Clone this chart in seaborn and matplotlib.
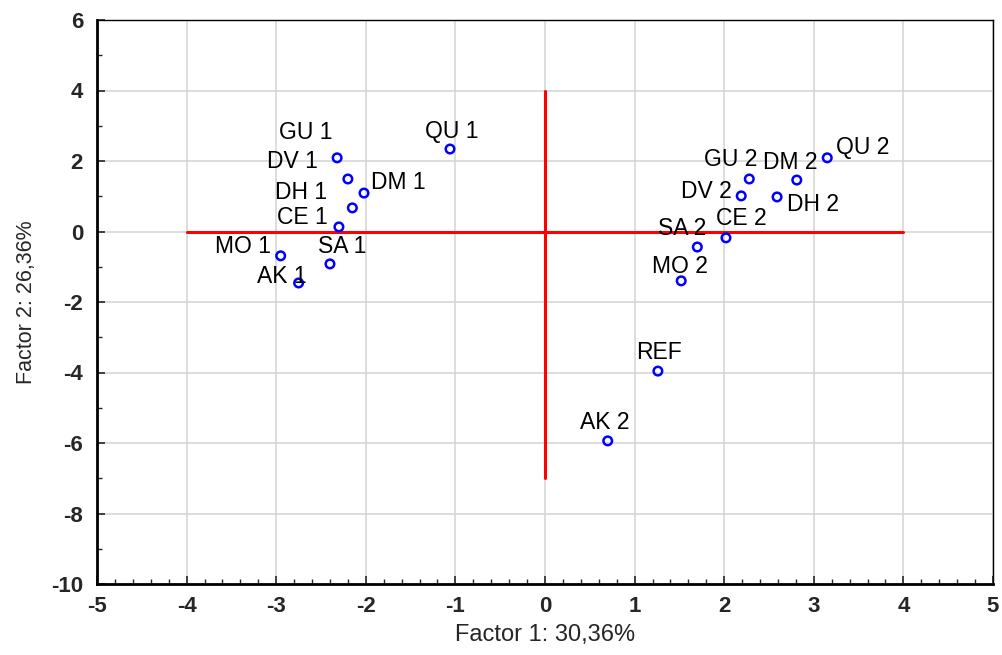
import matplotlib
matplotlib.use("Agg")
import matplotlib.pyplot as plt
from matplotlib.ticker import MultipleLocator
import seaborn as sns
import pandas as pd

labels = ["GU 1", "DV 1", "DM 1", "DH 1", "CE 1", "MO 1", "SA 1", "AK 1", "QU 1",
          "GU 2", "DM 2", "QU 2", "DV 2", "DH 2", "CE 2", "SA 2", "MO 2", "REF", "AK 2"]
factor1 = [-2.32, -2.20, -2.02, -2.15, -2.30, -2.95, -2.40, -2.75, -1.06,
           2.28, 2.81, 3.15, 2.19, 2.59, 2.02, 1.70, 1.52, 1.26, 0.70]
factor2 = [2.09, 1.49, 1.09, 0.67, 0.13, -0.69, -0.92, -1.46, 2.34,
           1.49, 1.46, 2.09, 1.01, 0.98, -0.18, -0.44, -1.40, -3.96, -5.94]

# label placement offsets (pixels) for text centre relative to its point
label_offsets = {
    "GU 1": (-31, 25), "DV 1": (-55, 17), "DM 1": (34, 11), "DH 1": (-51, 15),
    "CE 1": (-37, 9), "MO 1": (-38, 9), "SA 1": (12, 17), "AK 1": (-17, 6),
    "QU 1": (2, 18), "GU 2": (-19, 19), "DM 2": (-7, 18), "QU 2": (35, 10),
    "DV 2": (-35, 4), "DH 2": (36, -8), "CE 2": (15, 19), "SA 2": (-15, 19),
    "MO 2": (-1, 14), "REF": (1, 19), "AK 2": (-3, 18),
}

df = pd.DataFrame({"label": labels, "Factor 1": factor1, "Factor 2": factor2})

sns.set_style("white")
plt.rcParams["font.family"] = ["Liberation Sans", "DejaVu Sans"]
plt.rcParams["axes.unicode_minus"] = False

fig = plt.figure(figsize=(10.03, 6.55), dpi=100)
ax = fig.add_axes([97 / 1003, 71 / 655, 896 / 1003, 564 / 655])

ax.grid(True, which="major", color="#d3d3d3", linewidth=1.1, zorder=0)
ax.set_axisbelow(True)

# reference cross lines
ax.plot([-4, 4], [0, 0], color="#ff0000", linewidth=2.2, zorder=2)
ax.plot([0, 0], [-7, 4], color="#ff0000", linewidth=2.2, zorder=2)

sns.scatterplot(data=df, x="Factor 1", y="Factor 2", ax=ax, marker="o",
                s=38, facecolors="none", edgecolor="#0000ff", linewidth=1.8,
                zorder=3, legend=False)

for lab, x, y in zip(labels, factor1, factor2):
    dx, dy = label_offsets[lab]
    ax.annotate(lab, (x, y), xytext=(dx, dy), textcoords="offset pixels",
                ha="center", va="center", fontsize=16.5, color="black", zorder=4)

ax.set_xlim(-5, 5)
ax.set_ylim(-10, 6)
ax.xaxis.set_major_locator(MultipleLocator(1))
ax.xaxis.set_minor_locator(MultipleLocator(0.2))
ax.yaxis.set_major_locator(MultipleLocator(2))
ax.yaxis.set_minor_locator(MultipleLocator(1))

ax.tick_params(which="major", direction="in", length=6, width=1.2,
               labelsize=16, bottom=True, left=True, top=False, right=False)
ax.tick_params(which="minor", direction="in", length=3.5, width=1.0,
               bottom=True, left=True, top=False, right=False)
for lbl in ax.get_xticklabels() + ax.get_yticklabels():
    lbl.set_fontweight("bold")
ax.tick_params(axis="x", pad=9)
ax.tick_params(axis="y", pad=10)

for side in ["left", "bottom"]:
    ax.spines[side].set_linewidth(2.0)
    ax.spines[side].set_color("black")
for side in ["top", "right"]:
    ax.spines[side].set_linewidth(1.0)
    ax.spines[side].set_color("black")

ax.set_xlabel("Factor 1: 30,36%", fontsize=17, labelpad=5)
ax.set_ylabel("Factor 2: 26,36%", fontsize=15.5, labelpad=10)

fig.savefig("out.png", dpi=100)
